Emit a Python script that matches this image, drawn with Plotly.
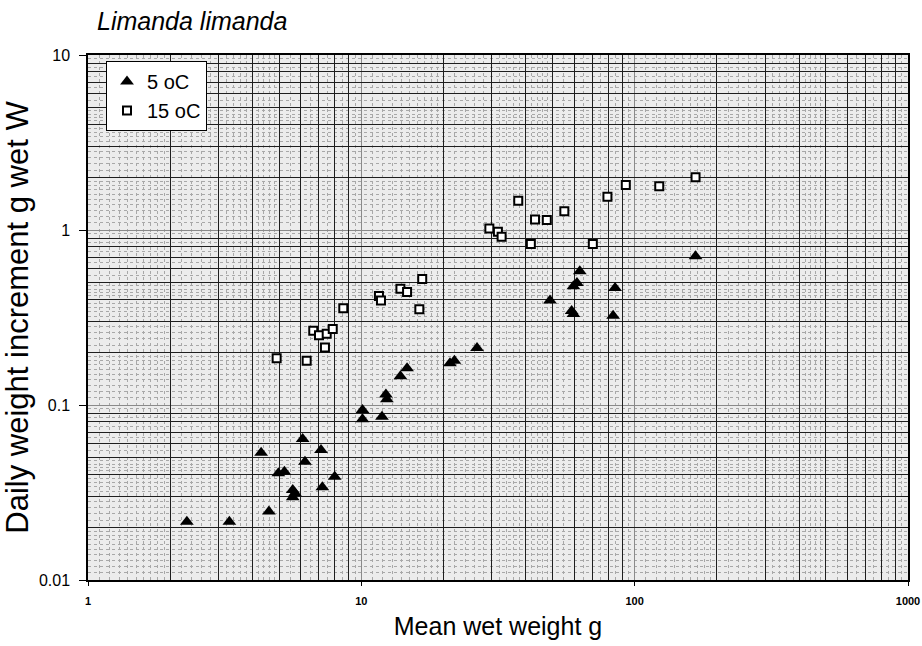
import plotly.graph_objects as go

# ---- data ----
w5 = [2.30, 3.29, 4.59, 4.30, 4.97, 5.23, 5.61, 5.72, 5.61, 6.10, 6.22, 7.12, 7.20, 7.99,
      10.1, 10.1, 12.3, 12.4, 11.9, 13.9, 14.7, 21.1, 21.9, 26.5, 49.0, 59.7, 58.8,
      59.7, 61.5, 63.0, 83.4, 84.8, 167.0]
g5 = [0.0215, 0.0215, 0.0246, 0.0534, 0.0407, 0.0416, 0.0327, 0.0313, 0.0297, 0.0639,
      0.0474, 0.0553, 0.0339, 0.0389, 0.0936, 0.0829, 0.115, 0.108, 0.0857, 0.146,
      0.162, 0.173, 0.179, 0.212, 0.395, 0.331, 0.344, 0.477, 0.498, 0.581, 0.324,
      0.466, 0.708]

w15 = [4.90, 6.31, 6.67, 7.00, 7.47, 7.86, 7.36, 8.59, 11.6, 11.8, 13.9, 14.7, 16.7, 16.3,
       29.4, 31.6, 32.6, 37.5, 41.7, 43.2, 47.7, 55.3, 70.3, 79.5, 92.8, 123.0, 167.0]
g15 = [0.185, 0.179, 0.266, 0.250, 0.255, 0.272, 0.213, 0.357, 0.420, 0.395, 0.462, 0.442,
       0.525, 0.352, 1.02, 0.978, 0.916, 1.47, 0.832, 1.15, 1.14, 1.28, 0.832, 1.55,
       1.81, 1.78, 2.00]

x_ticks = [1, 10, 100, 1000]
x_ticktext = ["1", "10", "100", "1000"]
y_ticks = [0.01, 0.1, 1, 10]
y_ticktext = ["0.01", "0.1", "1", "10"]

# log-paper grid levels
sub_major = [2, 3, 4, 5, 6, 7, 8, 9]
sub_fine = [1.1, 1.2, 1.3, 1.4, 1.5, 1.6, 1.7, 1.8, 1.9, 2.2, 2.4, 2.6, 2.8, 3.2, 3.4, 3.6,
            3.8, 4.2, 4.4, 4.6, 4.8, 5.5, 6.5, 7.5, 8.5, 9.5]
x_decades = [1, 10, 100]
y_decades = [0.01, 0.1, 1]

FONT = "Liberation Sans, Arial, sans-serif"

fig = go.Figure()
# base subplot (fine grid)
fig.add_trace(go.Scatter(x=[], y=[], showlegend=False, hoverinfo="skip"))
fig.add_trace(go.Scatter(
    x=w5, y=g5, mode="markers", name="5 oC", xaxis="x2", yaxis="y2",
    marker=dict(symbol="triangle-up", size=12, color="black", line=dict(width=0))))
fig.add_trace(go.Scatter(
    x=w15, y=g15, mode="markers", name="15 oC", xaxis="x2", yaxis="y2",
    marker=dict(symbol="square", size=8, color="white", line=dict(width=2, color="black"))))

axis_common = dict(showline=True, linecolor="black", linewidth=1.5, mirror=True,
                   ticks="outside", tickcolor="black", zeroline=False, automargin=False,
                   gridcolor="#8a8a8a", gridwidth=1)

fig.update_layout(
    width=922, height=646,
    margin=dict(l=88, r=14, t=55, b=66),
    paper_bgcolor="white", plot_bgcolor="#ececec",
    font=dict(family=FONT, color="black"),
    title=dict(text="Limanda limanda", x=97 / 922, xanchor="left", xref="container",
               y=1 - 21 / 646, yref="container", yanchor="middle",
               font=dict(size=25, style="italic", family=FONT, color="black")),
    xaxis=dict(type="log", range=[0, 3], tickvals=x_ticks, ticktext=x_ticktext,
               ticklen=4, ticklabelstandoff=6,
               tickfont=dict(size=11, weight="bold", family=FONT),
               title=dict(text="Mean wet weight g", font=dict(size=25), standoff=12),
               minor=dict(tickvals=[d * v for d in x_decades for v in sub_fine],
                          showgrid=True, gridcolor="#a8a8a8", griddash="dot", gridwidth=1),
               **axis_common),
    yaxis=dict(type="log", range=[-2, 1], tickvals=y_ticks, ticktext=y_ticktext,
               ticklen=7, ticklabelstandoff=6, tickfont=dict(size=16),
               title=dict(text="Daily weight increment g wet W", font=dict(size=31), standoff=4),
               minor=dict(tickvals=[d * v for d in y_decades for v in sub_fine],
                          showgrid=True, gridcolor="#a8a8a8", griddash="dot", gridwidth=1),
               **axis_common),
    xaxis2=dict(type="log", range=[0, 3], overlaying="x", anchor="y", automargin=False,
                tickvals=[d * v for d in x_decades for v in sub_major],
                showticklabels=False, ticks="", showline=False, zeroline=False,
                showgrid=True, gridcolor="#1e1e1e", gridwidth=1),
    yaxis2=dict(type="log", range=[-2, 1], overlaying="y", anchor="x", side="left",
                automargin=False,
                tickvals=[d * v for d in y_decades for v in sub_major],
                showticklabels=False, ticks="", showline=False, zeroline=False,
                showgrid=True, gridcolor="#1e1e1e", gridwidth=1),
    legend=dict(x=(106 - 88) / 820, y=1 - (61 - 55) / 525, xanchor="left", yanchor="top",
                bgcolor="white", bordercolor="black", borderwidth=1,
                font=dict(size=20, family=FONT), itemwidth=30, tracegroupgap=0),
    showlegend=True,
)

fig.write_html("out.html")
